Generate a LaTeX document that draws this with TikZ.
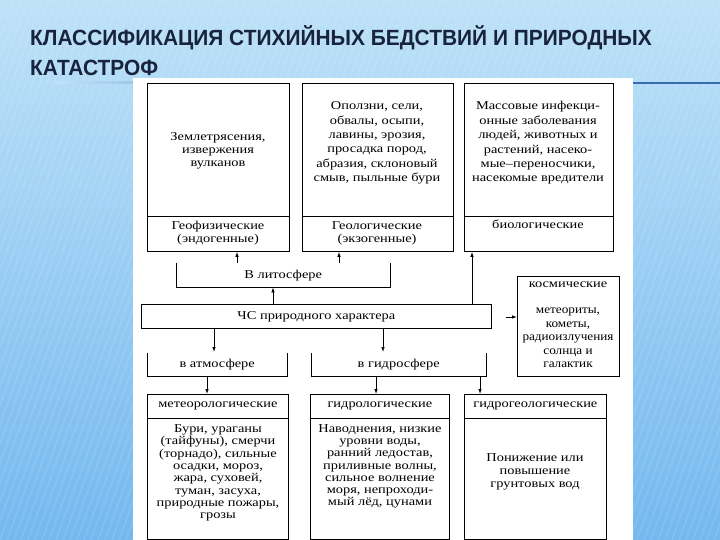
\documentclass[tikz,border=0pt]{standalone}
\usepackage{fontspec}
\usetikzlibrary{arrows.meta,calc}
\newfontfamily\tfont[FakeStretch=1.2]{Liberation Serif}
\newfontfamily\tfontn[FakeStretch=1.1]{Liberation Serif}
\newfontfamily\ttlfont[FakeStretch=0.95]{Liberation Sans}
\definecolor{bgtop}{HTML}{BEE2F8}
\definecolor{bgbot}{HTML}{74B8EF}
\definecolor{titlec}{HTML}{18233D}
\definecolor{rulec}{HTML}{3A6CB0}
\begin{document}
\begin{tikzpicture}[x=1pt,y=-1pt,
  frame/.style={draw, line width=0.8pt, inner sep=0pt},
  rect/.style args={#1x#2}{frame, minimum width=#1pt, minimum height=#2pt, anchor=north west},
  brk/.style args={#1x#2}{inner sep=0pt, minimum width=#1pt, minimum height=#2pt, anchor=north west, font=\tfont\fontsize{12}{14}\selectfont},
  txt/.style={font=\tfont\fontsize{12}{#1}\selectfont, align=center, inner sep=0pt},
  txt/.default=14.4,
  arr/.style={line width=0.8pt, -{Latex[length=5pt,width=3.5pt]}},
  bline/.style={line width=0.8pt},
  ttl/.style={font=\ttlfont\bfseries\fontsize{22}{26}\selectfont, text=titlec, inner sep=0pt, anchor=base west}]
\useasboundingbox (0,0) rectangle (720,540);
% background
\shade[top color=bgtop, bottom color=bgbot] (0,0) rectangle (720,540);
\begin{scope}
\clip (0,0) rectangle (720,540);
\foreach \i in {-30,...,110} \draw[white, opacity=0.10, line width=1.6pt] (\i*7,540) -- (\i*7+196,0);
\end{scope}
\shade[left color=bgtop, right color=rulec] (55,82) rectangle (400,84);
\fill[rulec] (400,82) rectangle (720,84);
\fill[white] (133,78) rectangle (633,540);
% title
\node[ttl] (t1) at (30,46) {КЛАССИФИКАЦИЯ СТИХИЙНЫХ БЕДСТВИЙ И ПРИРОДНЫХ};
\node[ttl] (t2) at (30,76) {КАТАСТРОФ};
% top boxes
\node[rect=142x133] (geoTop) at (147,83) {};
\node[rect=142x35] (geoLbl) at (147,216) {};
\node[rect=151x133] (geolTop) at (302,83) {};
\node[rect=151x35] (geolLbl) at (302,216) {};
\node[rect=149x133] (bioTop) at (464,83) {};
\node[rect=149x35] (bioLbl) at (464,216) {};
\node[txt=13] at (218,151) {Землетрясения,\\извержения\\вулканов};
\node[txt] at (377,143) {Оползни, сели,\\обвалы, осыпи,\\лавины, эрозия,\\просадка пород,\\абразия, склоновый\\смыв, пыльные бури};
\node[txt] at (538,143) {Массовые инфекци-\\онные заболевания\\людей, животных и\\растений, насеко-\\мые–переносчики,\\насекомые вредители};
\node[txt=13] at (218,233.5) {Геофизические\\(эндогенные)};
\node[txt=13] at (377,233.5) {Геологические\\(экзогенные)};
\node[txt] at (538,224) {биологические};
% lithosphere bracket
\node[brk=214x24] (litho) at (176,263) {В литосфере};
\draw[bline] (litho.north west) -- (litho.south west) -- (litho.south east) -- (litho.north east);
% main node
\node[rect=350x24, font=\tfont\fontsize{12}{14}\selectfont] (chs) at (141,304) {ЧС природного характера};
% cosmic
\node[rect=102x100] (cosmic) at (517,276) {};
\node[txt] at (568,285) {космические};
\node[txt=13.5, font=\tfontn\fontsize{12}{13.5}\selectfont] at (568,338) {метеориты,\\кометы,\\радиоизлучения\\солнца и\\галактик};
% atmosphere / hydrosphere brackets
\node[brk=140x23] (atm) at (147,353) {в атмосфере};
\draw[bline] (atm.north west) -- (atm.south west) -- (atm.south east) -- (atm.north east);
\node[brk=175x23] (hyd) at (311,353) {в гидросфере};
\draw[bline] (hyd.north west) -- (hyd.south west) -- (hyd.south east) -- (hyd.north east);
% bottom boxes
\node[rect=141x24] (meteoHdr) at (147,394) {};
\node[rect=141x121] (meteoBody) at (147,418) {};
\node[rect=139x24] (hydroHdr) at (310,394) {};
\node[rect=139x121] (hydroBody) at (310,418) {};
\node[rect=142x24] (hgeoHdr) at (464,394) {};
\node[rect=142x121] (hgeoBody) at (464,418) {};
\node[txt] at (meteoHdr.center) {метеорологические};
\node[txt] at (hydroHdr.center) {гидрологические};
\node[txt] at (hgeoHdr.center) {гидрогеологические};
\node[txt=12.3] at (218,473) {Бури, ураганы\\(тайфуны), смерчи\\(торнадо), сильные\\осадки, мороз,\\жара, суховей,\\туман, засуха,\\природные пожары,\\грозы};
\node[txt=12.2] at (380,466.5) {Наводнения, низкие\\уровни воды,\\ранний ледостав,\\приливные волны,\\сильное волнение\\моря, непроходи-\\мый лёд, цунами};
\node[txt=13] at (535,472) {Понижение или\\повышение\\грунтовых вод};
% connectors
\coordinate (p1) at (237,263);
\coordinate (p2) at (339,263);
\coordinate (p3) at (273,0);
\coordinate (p4) at (472,0);
\coordinate (p5) at (506,317);
\coordinate (p6) at (214,352);
\coordinate (p7) at (383,352);
\coordinate (p8) at (207,0);
\coordinate (p9) at (376,0);
\coordinate (p10) at (480,0);
\draw[arr] (p1) -- (p1 |- geoLbl.south);
\draw[arr] (p2) -- (p2 |- geolLbl.south);
\draw[arr] (chs.north -| p3) -- (litho.south -| p3);
\draw[arr] (chs.north -| p4) -- (bioLbl.south -| p4);
\draw[arr] (p5) -- (p5 -| cosmic.west);
\draw[arr] (chs.south -| p6) -- (p6);
\draw[arr] (chs.south -| p7) -- (p7);
\draw[arr] (atm.south -| p8) -- (meteoHdr.north -| p8);
\draw[arr] (hyd.south -| p9) -- (hydroHdr.north -| p9);
\draw[arr] (hyd.south -| p10) -- (hgeoHdr.north -| p10);
\end{tikzpicture}
\end{document}
